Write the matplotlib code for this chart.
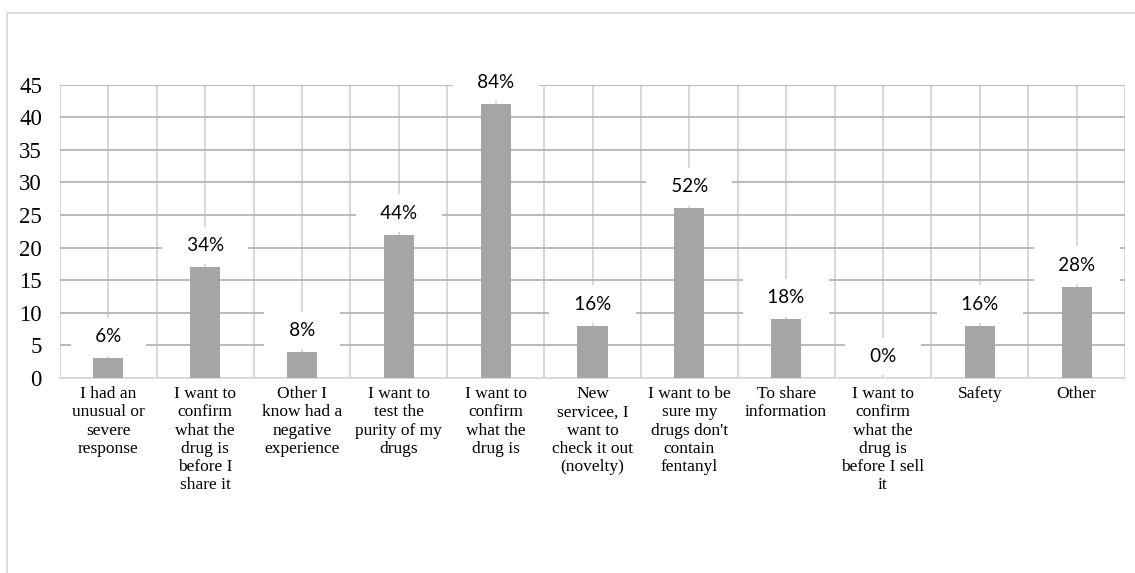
import matplotlib
matplotlib.use("Agg")
import matplotlib.pyplot as plt
from matplotlib.patches import Rectangle

# chart data
categories = [
    "I had an\nunusual or\nsevere\nresponse",
    "I want to\nconfirm\nwhat the\ndrug is\nbefore I\nshare it",
    "Other I\nknow had a\nnegative\nexperience",
    "I want to\ntest the\npurity of my\ndrugs",
    "I want to\nconfirm\nwhat the\ndrug is",
    "New\nservicee, I\nwant to\ncheck it out\n(novelty)",
    "I want to be\nsure my\ndrugs don't\ncontain\nfentanyl",
    "To share\ninformation",
    "I want to\nconfirm\nwhat the\ndrug is\nbefore I sell\nit",
    "Safety",
    "Other",
]
counts = [3, 17, 4, 22, 42, 8, 26, 9, 0, 8, 14]
percents = [6, 34, 8, 44, 84, 16, 52, 18, 0, 16, 28]
yticks = [0, 5, 10, 15, 20, 25, 30, 35, 40, 45]

fig = plt.figure(figsize=(11.35, 5.73), dpi=100)
W, H = 1135, 573

# light outer frame of the chart area (runs off the right/bottom edges)
fig.patches.append(Rectangle((7 / W, -0.05), 1.2, 1 - 13 / H + 0.05,
                             transform=fig.transFigure, fill=False,
                             edgecolor="#d9d9d9", linewidth=1.3))

ax = fig.add_axes([60 / W, (H - 378) / H, (1125 - 60) / W, (378 - 84.6) / H])

x = list(range(len(categories)))
ax.bar(x, counts, width=0.31, color="#a5a5a5", zorder=3)

for xi, c, p in zip(x, counts, percents):
    ax.annotate(f"   {p}%   ", (xi, c), xytext=(0, 15.5), textcoords="offset points",
                ha="center", va="center", fontsize=13.5, family="Lato",
                color="black", zorder=2,
                bbox=dict(boxstyle="square,pad=0.55", facecolor="white",
                          edgecolor="none"))

ax.set_xlim(-0.5, len(categories) - 0.5)
ax.set_ylim(0, 45)
ax.set_yticks(yticks)
ax.set_xticks(x)
ax.set_xticks([i - 0.5 for i in range(len(categories) + 1)], minor=True)
ax.set_xticklabels(categories, family="Liberation Serif", fontsize=12.5,
                   linespacing=1.18, va="top")
ax.set_yticklabels([str(t) for t in yticks], family="Liberation Serif", fontsize=16.5)
ax.tick_params(axis="both", which="both", length=0)
ax.tick_params(axis="x", pad=6)
ax.tick_params(axis="y", pad=13)

ax.grid(axis="y", color="#b4b4b4", linewidth=1.3, zorder=0.5)
ax.grid(axis="x", which="both", color="#d4d4d4", linewidth=1.3, zorder=0.5)
ax.set_axisbelow(True)
for s in ["top", "right", "left"]:
    ax.spines[s].set_visible(False)
ax.spines["bottom"].set_color("#d9d9d9")
ax.spines["bottom"].set_linewidth(1.3)

fig.savefig("out.png", dpi=100)
